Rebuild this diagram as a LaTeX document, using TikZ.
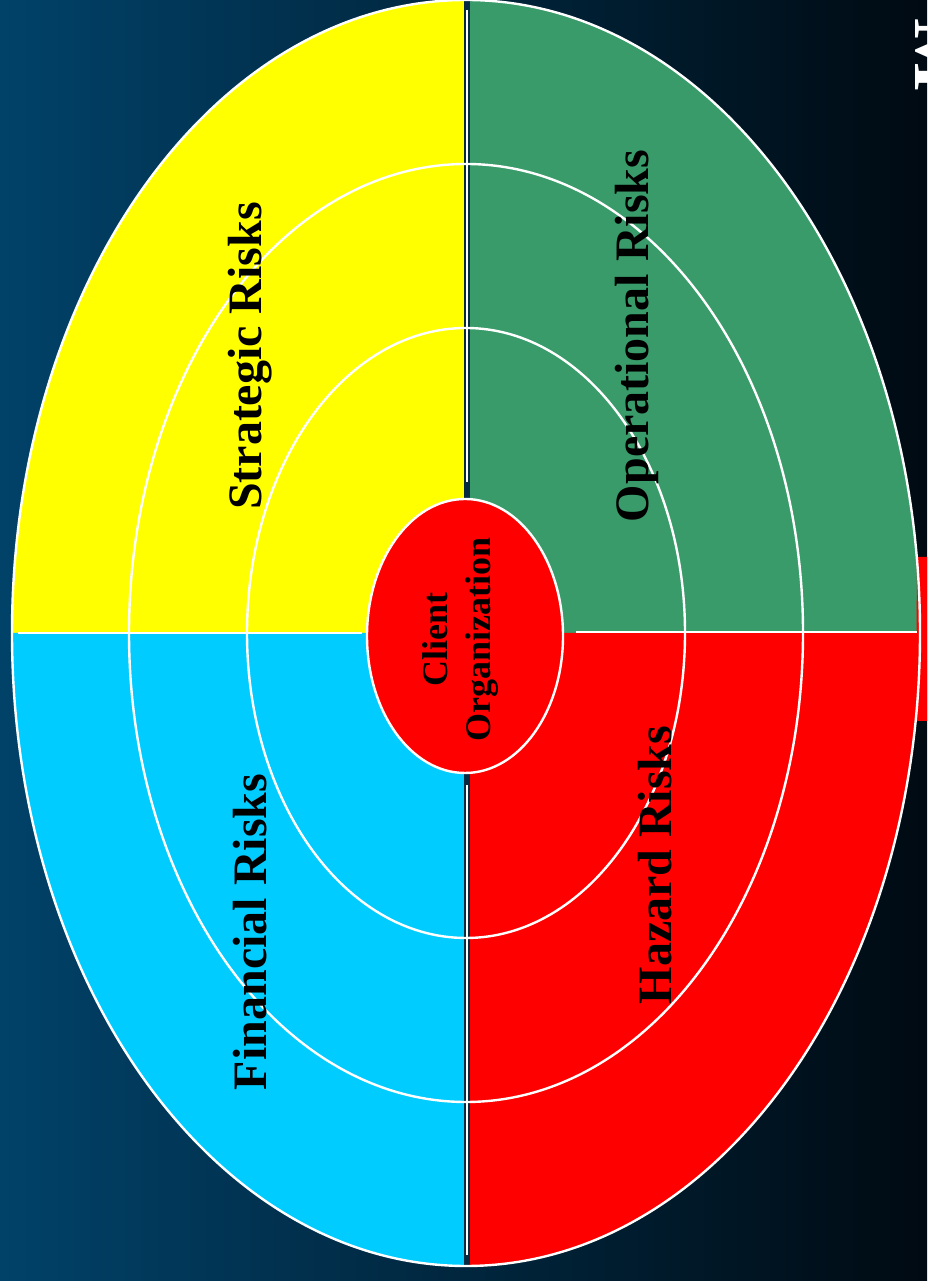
\documentclass[tikz,border=0pt]{standalone}
\usepackage{fontspec}
\setmainfont{Liberation Serif}
\usetikzlibrary{shapes.geometric, positioning}

\definecolor{bgleft}{RGB}{1,66,105}
\definecolor{bgright}{RGB}{0,10,18}
\definecolor{riskyellow}{RGB}{255,255,0}
\definecolor{riskgreen}{RGB}{56,155,105}
\definecolor{riskred}{RGB}{255,0,0}
\definecolor{riskcyan}{RGB}{0,204,255}
\definecolor{gapblue}{RGB}{6,42,64}

\begin{document}
\begin{tikzpicture}[
      x=1pt, y=1pt,
      ring/.style={draw=white, line width=2.4pt},
      divider/.style={white, line width=2.6pt},
      risktext/.style={rotate=90, inner sep=0pt, text=black, font=\fontsize{48}{52}\selectfont\bfseries},
      core/.style={ellipse, draw=white, line width=2.4pt, fill=riskred, minimum width=196pt, minimum height=274pt}
    ]
    \useasboundingbox (0,0) rectangle (927,1281);
    \clip (0,0) rectangle (927,1281);
    \shade[left color=bgleft, right color=bgright] (0,0) rectangle (927,1281);

    % quadrants
    \fill[riskyellow] (466,648) -- (12,648) arc[start angle=180, end angle=90, x radius=454, y radius=633] -- cycle;
    \fill[riskgreen] (466,648) -- (466,1281) arc[start angle=90, end angle=0, x radius=454, y radius=633] -- cycle;
    \fill[riskred] (466,648) -- (920,648) arc[start angle=0, end angle=-90, x radius=454, y radius=633] -- cycle;
    \fill[riskred] (917,724) -- (927,724) -- (927,560) -- (916,560) -- cycle;
    \fill[riskcyan] (466,648) -- (466,15) arc[start angle=270, end angle=180, x radius=454, y radius=633] -- cycle;
    \fill[gapblue] (463.5,14) rectangle (469.5,1281);

    % rings
    \draw[ring] (466,648) ellipse[x radius=454, y radius=633];
    \draw[ring] (466,648) ellipse[x radius=337, y radius=469];
    \draw[ring] (466,648) ellipse[x radius=219, y radius=305];

    % dividers
    \draw[divider, line width=2pt] (467,1271) -- (467,799);
    \draw[divider, line width=2pt] (467,496) -- (467,26);
    \draw[divider] (18,648) -- (362,648);
    \draw[divider] (576,649) -- (917,649);

    \node[core] (client) at (465,645) {};
    \node[rotate=90, align=center, text=black, font=\fontsize{36}{43}\selectfont\bfseries] (clientname) at (460,641) {Client\\Organization};

    \node[risktext] (strat) at (250,925) {Strategic Risks};
    \node[risktext] (oper) at (637,945) {Operational Risks};
    \node[risktext] (fin) at (250,349) {Financial Risks};
    \node[risktext] (haz) at (655,416) {Hazard Risks};

    \node[rotate=-90, anchor=base west, inner sep=0pt, text=white, font=\fontsize{78}{80}\selectfont\bfseries] (title) at (915,1263) {M};
  \end{tikzpicture}
\end{document}
